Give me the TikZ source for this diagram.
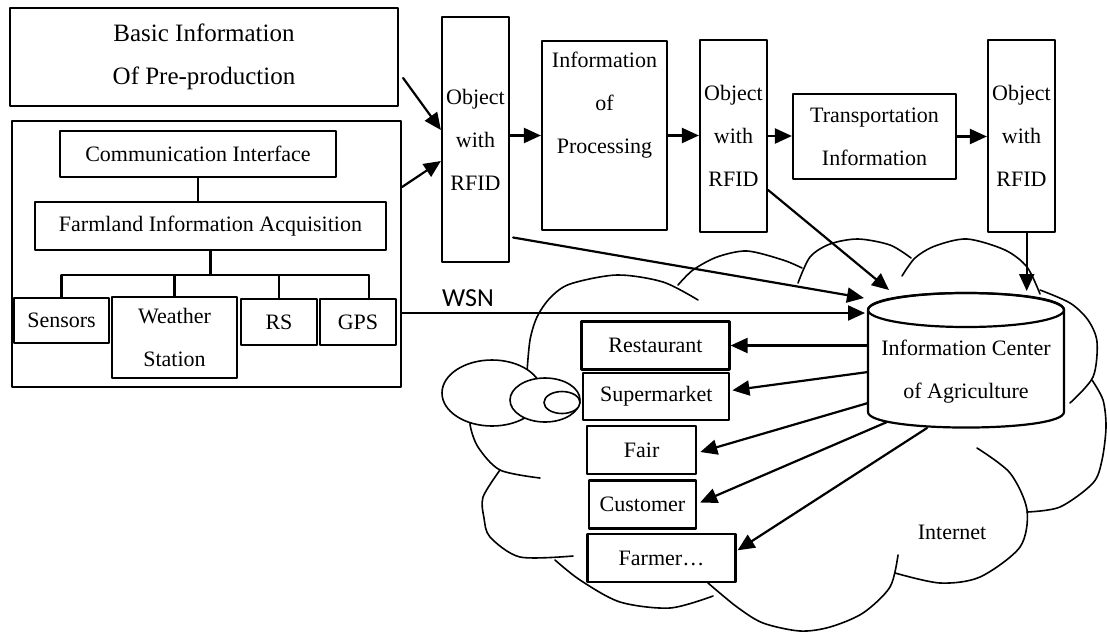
\documentclass[tikz,border=0pt]{standalone}
\usepackage{fontspec}
\setmainfont{Liberation Serif}
\newfontfamily\wsnfont{Carlito}
\usetikzlibrary{arrows.meta}

\begin{document}
\begin{tikzpicture}[line cap=round,line join=round,>={Triangle[length=8.5pt,width=7.5pt]},x=0.5pt,y=-0.5pt,
  box/.style={draw,line width=1.1pt,fill=white,inner sep=0pt,align=center,font=\fontsize{11}{21.5}\selectfont},
  plain/.style={inner sep=0pt,align=center,font=\fontsize{11}{21.5}\selectfont},
  arr/.style={->,line width=1.1pt},
  link/.style={line width=1.1pt},
  puff/.style={line width=0.8pt},
  bubble/.style={line width=0.8pt,fill=white}]
\useasboundingbox (0,0) rectangle (1107,633);
% cloud of the internet
\draw[puff] plot[smooth] coordinates {(527,372) (530,340) (537,317) (550,298) (570,284) (617,275) (663,282) (698,300)};
\draw[puff] plot[smooth] coordinates {(678,285) (693,270) (717,257) (747,251) (783,260) (802,268)};
\draw[puff] plot[smooth] coordinates {(798,283) (810,257) (830,244) (858,239) (890,245) (911,258)};
\draw[puff] plot[smooth] coordinates {(902,276) (915,258) (935,246) (967,239) (1005,250) (1027,267) (1040,294)};
\draw[puff] plot[smooth] coordinates {(1040,290) (1070,303) (1088,320) (1097,342) (1093,377) (1070,403)};
\draw[puff] plot[smooth] coordinates {(1092,380) (1103,400) (1106,427) (1102,460) (1093,483) (1060,507) (1027,512)};
\draw[puff] plot[smooth] coordinates {(977,448) (1010,473) (1027,510) (1020,547) (980,577) (940,583) (895,573)};
\draw[puff] plot[smooth] coordinates {(898,555) (890,587) (863,613) (830,627) (800,631) (763,623) (737,607) (708,583)};
\draw[puff] plot[smooth] coordinates {(713,596) (670,608) (620,602) (580,580) (555,560)};
\draw[puff] plot[smooth] coordinates {(500,470) (483,497) (484,518) (490,537) (520,557) (573,556)};
\draw[puff] plot[smooth] coordinates {(474,410) (470,424) (478,447) (500,470) (540,478)};
\draw[bubble] (492,393) ellipse [x radius=25pt,y radius=16.5pt];
\draw[bubble] (545,400) ellipse [x radius=17.5pt,y radius=11pt];
\draw[bubble] (562,402.5) ellipse [x radius=9pt,y radius=5.5pt];
\node[plain] (internet) at (952,532) {Internet};
% information center
\filldraw[line width=1.1pt,fill=white] (868,310) -- (868,412) .. controls (868,432.7) and (1064,432.7) .. (1064,412) -- (1064,310) .. controls (1064,287.3) and (868,287.3) .. cycle;
\draw[line width=1.1pt] (966,310) ellipse [x radius=49pt,y radius=8.5pt];
\node[plain,minimum width=98pt] (infocenter) at (966,371.5) {Information Center\\of Agriculture};
\coordinate (ic-a) at (864,298);
\coordinate (ic-b) at (889,290);
\coordinate (ic-c) at (1026.7,291);
\coordinate (ic-w) at (865,313);
\coordinate (ic-s) at (868,372);
\coordinate (ic-f) at (868,403);
\coordinate (ic-u) at (887,422);
\coordinate (ic-r) at (927,428);
% farmland side
\node[box,font=\fontsize{12.5}{21.5}\selectfont,minimum width=194pt,minimum height=49pt] (basic) at (204,57) {Basic Information\\Of Pre-production};
\node[box,minimum width=194.5pt,minimum height=133pt] (farmbox) at (206.5,254) {};
\node[box,minimum width=138pt,minimum height=23pt] (comm) at (198,154) {Communication Interface};
\node[box,minimum width=175.5pt,minimum height=24pt] (acq) at (210.5,226) {Farmland Information Acquisition};
\node[box,minimum width=47.5pt,minimum height=22.5pt] (sensors) at (61.5,320.5) {Sensors};
\node[box,minimum width=62.5pt,minimum height=40.5pt] (weather) at (174.5,337.5) {Weather\\Station};
\node[box,minimum width=38pt,minimum height=23pt] (rs) at (279,322) {RS};
\node[box,minimum width=38pt,minimum height=23pt] (gps) at (358,322) {GPS};
\coordinate (bus) at (0,275);
\draw[link] (comm.south) -- (comm.south |- acq.north);
\draw[link] (acq.south) -- (acq.south |- bus);
\draw[link] (sensors.north) |- ([xshift=5.5pt]gps.north |- bus) -- ([xshift=5.5pt]gps.north);
\draw[link] (weather.north) -- (weather.north |- bus);
\draw[link] (rs.north) -- (rs.north |- bus);
% chain of RFID objects
\node[box,minimum width=33.5pt,minimum height=122.5pt] (rfidA) at (475.5,139.5) {Object\\with\\RFID};
\node[box,minimum width=62.5pt,minimum height=94.5pt] (proc) at (604.5,135.5) {};
\node[plain] (proclabel) at (604.5,105) {Information\\of\\Processing};
\node[box,minimum width=33.5pt,minimum height=96pt] (rfidB) at (733.5,136) {Object\\with\\RFID};
\node[box,minimum width=81.5pt,minimum height=42.5pt] (trans) at (874.5,136.5) {Transportation\\Information};
\node[box,minimum width=33.5pt,minimum height=96pt] (rfidC) at (1021.5,136) {Object\\with\\RFID};
\draw[arr] ([xshift=2pt,yshift=-10.5pt]basic.east) -- ([yshift=4.75pt]rfidA.west);
\draw[arr] ([yshift=33.5pt]farmbox.east) -- ([yshift=-10.75pt]rfidA.west);
\draw[arr] (rfidA.east |- proc.west) -- (proc.west);
\draw[arr] (proc.east) -- (proc.east -| rfidB.west);
\draw[arr] (rfidB.east) -- (rfidB.east -| trans.west);
\draw[arr] (trans.east) -- (trans.east -| rfidC.west);
% links into the information center
\draw[arr] ([xshift=1.5pt,yshift=-49pt]rfidA.east) -- (ic-a);
\draw[arr] ([yshift=-27pt]rfidB.east) -- (ic-b);
\draw[arr] (rfidC.south -| ic-c) -- (ic-c);
\draw[arr] ([yshift=-29.5pt]farmbox.east) -- (ic-w);
\node[inner sep=0pt,font=\wsnfont\fontsize{13}{15}\selectfont] (wsn) at (468,298) {WSN};
% users of the information
\node[box,minimum width=74pt,minimum height=24pt] (rest) at (655.5,345.5) {Restaurant};
\node[box,minimum width=73pt,minimum height=23.5pt] (super) at (656.3,396.3) {Supermarket};
\node[box,minimum width=54.5pt,minimum height=24pt] (fair) at (641.7,450) {Fair};
\node[box,minimum width=53.5pt,minimum height=24pt] (cust) at (642.5,504.5) {Customer};
\node[box,minimum width=74pt,minimum height=24pt] (farmer) at (661.5,558.3) {Farmer…};
\draw[arr] (infocenter.west |- rest) -- (rest.east);
\draw[arr] (ic-s) -- ([xshift=1pt,yshift=3pt]super.east);
\draw[arr] (ic-f) -- ([xshift=1.5pt,yshift=-1pt]fair.east);
\draw[arr] (ic-u) -- ([xshift=1.5pt,yshift=1pt]cust.east);
\draw[arr] (ic-r) -- ([xshift=0.5pt,yshift=4pt]farmer.east);
\end{tikzpicture}
\end{document}
